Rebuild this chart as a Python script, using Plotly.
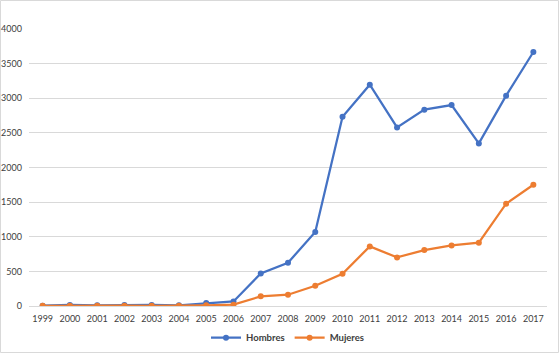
import plotly.graph_objects as go

years = [str(y) for y in range(1999, 2018)]
hombres = [5, 15, 10, 15, 15, 10, 43, 66, 470, 625, 1068, 2733, 3196, 2579, 2835, 2902, 2348, 3037, 3668]
mujeres = [2, 5, 3, 5, 3, 2, 10, 19, 139, 163, 293, 466, 861, 702, 808, 875, 914, 1477, 1751]
y_ticks = [0, 500, 1000, 1500, 2000, 2500, 3000, 3500, 4000]

W, H = 560, 354
ml, mr, mt, mb = 29, 13, 29, 48

fig = go.Figure()
fig.add_trace(go.Scatter(x=years, y=hombres, name="<b>Hombres</b>", mode="lines+markers",
                         line=dict(color="#4472C4", width=2.25),
                         marker=dict(size=6, color="#4472C4")))
fig.add_trace(go.Scatter(x=years, y=mujeres, name="<b>Mujeres</b>", mode="lines+markers",
                         line=dict(color="#ED7D31", width=2.25),
                         marker=dict(size=6, color="#ED7D31")))

pw = W - ml - mr
ph = H - mt - mb
fig.add_shape(type="rect", xref="paper", yref="paper",
              x0=-(ml - 0.5) / pw, x1=1 + (mr - 1.5) / pw,
              y0=-(mb - 1.5) / ph, y1=1 + (mt - 0.5) / ph,
              line=dict(color="#D9D9D9", width=1), layer="below")

fig.update_layout(
    width=W, height=H,
    margin=dict(l=ml, r=mr, t=mt, b=mb, autoexpand=False),
    paper_bgcolor="white", plot_bgcolor="white",
    font=dict(family="Lato, Open Sans, sans-serif", size=9, color="#595959"),
    showlegend=True,
    legend=dict(orientation="h", x=0.5, xanchor="center", y=-0.062, yanchor="top",
                font=dict(size=9.5, color="#404040"), itemwidth=30),
    xaxis=dict(type="category", range=[-0.5, 18.5], showgrid=False, ticks="",
               showline=False, automargin=False, ticklabelstandoff=6,
               tickfont=dict(size=9, color="#404040")),
    yaxis=dict(range=[0, 4000], tickvals=y_ticks, showgrid=True, gridcolor="#D9D9D9",
               gridwidth=1, zeroline=True, zerolinecolor="#D9D9D9", zerolinewidth=1,
               ticks="", showline=False, automargin=False, ticklabelstandoff=6,
               tickfont=dict(size=9, color="#404040")),
)

fig.write_html("out.html", config={"displayModeBar": False},
               post_script="document.body.style.margin='0';")
